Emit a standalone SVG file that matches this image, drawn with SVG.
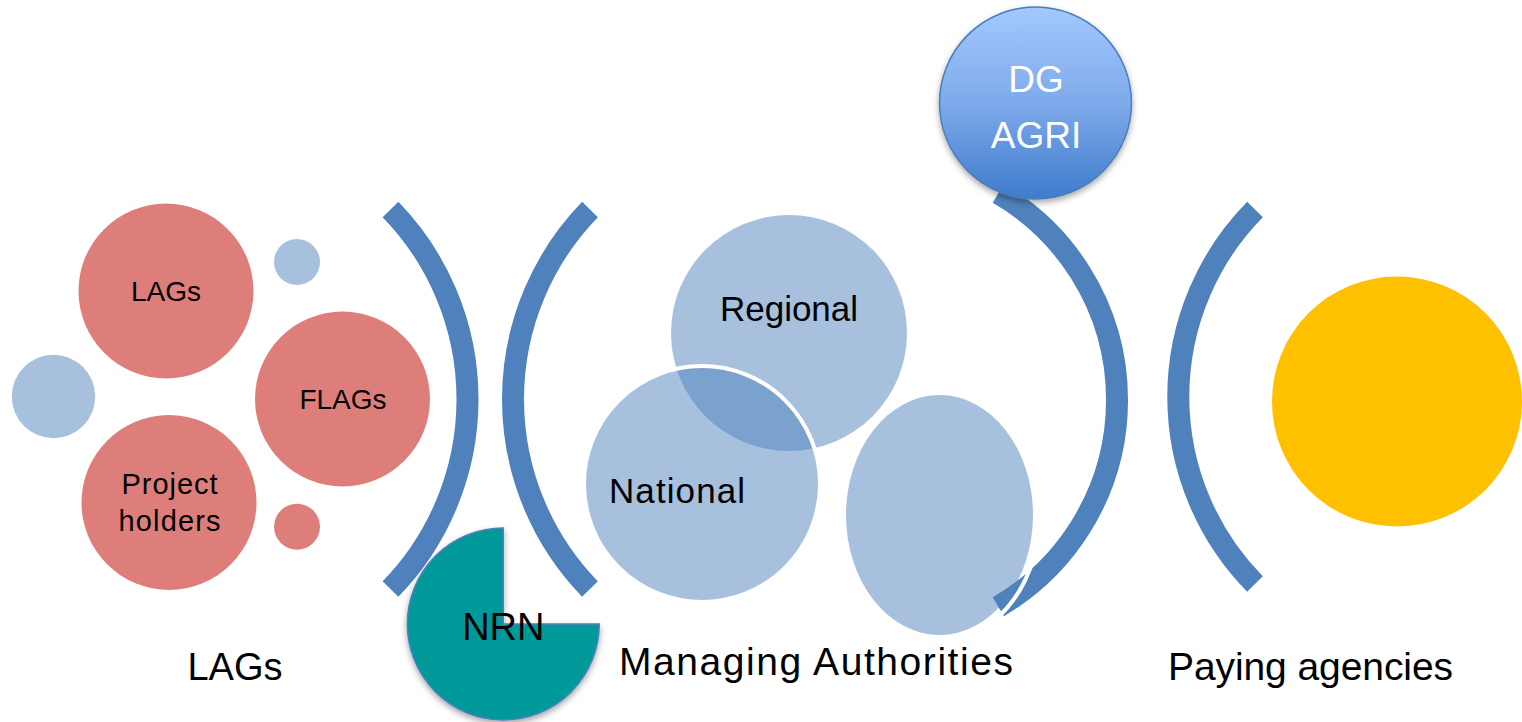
<svg xmlns="http://www.w3.org/2000/svg" width="1522" height="722" viewBox="0 0 1522 722">
<defs>
<style>
.t{font-family:"Liberation Sans",Arial,sans-serif;fill:#000;text-anchor:middle}
.w{fill:#fff}
.red{fill:#DE7E7B}
.lb{fill:#A7C0DE}
.br{fill:none;stroke:#4F81BD;stroke-width:22;stroke-linecap:butt}
</style>
<linearGradient id="dg" x1="0" y1="0" x2="0" y2="1">
<stop offset="0" stop-color="#A3C8FF"/>
<stop offset="0.5" stop-color="#7EAAEA"/>
<stop offset="1" stop-color="#3E7CCD"/>
</linearGradient>
<filter id="sh" x="-20%" y="-20%" width="140%" height="140%">
<feDropShadow dx="0" dy="3" stdDeviation="3" flood-color="#000" flood-opacity="0.35"/>
</filter>
</defs>
<rect width="1522" height="722" fill="#fff"/>

<g id="lags-group">
<circle class="red" cx="166" cy="291" r="87.5"/>
<text class="t" x="166" y="301" font-size="28">LAGs</text>
<circle class="lb" cx="297" cy="262" r="23"/>
<circle class="lb" cx="53.5" cy="396.5" r="41.7"/>
<circle class="red" cx="342.5" cy="399" r="87.5"/>
<text class="t" x="343" y="409" font-size="28">FLAGs</text>
<circle class="red" cx="169" cy="502.5" r="87.5"/>
<text class="t" x="169.5" y="494" font-size="29" textLength="96">Project</text>
<text class="t" x="169.5" y="531" font-size="29" textLength="102">holders</text>
<circle class="red" cx="297" cy="526.7" r="23"/>
<text class="t" x="235" y="680" font-size="38">LAGs</text>
</g>

<g id="managing-authorities">
<circle cx="789" cy="333" r="118" fill="#4F81BD" fill-opacity="0.5"/>
<text class="t" x="789" y="321" font-size="35">Regional</text>
<circle cx="702" cy="484" r="118" fill="#4F81BD" fill-opacity="0.5" stroke="#fff" stroke-width="4"/>
<text class="t" x="677" y="503" font-size="35" textLength="136">National</text>
<ellipse class="lb" cx="939.5" cy="515" rx="93.5" ry="120"/>
<text class="t" x="816" y="675" font-size="39" textLength="394">Managing Authorities</text>
</g>

<g id="connectors">
<path class="br" d="M390.5 209.5 A272.3 272.3 0 0 1 390.5 589"/>
<path class="br" d="M590 209.5 A272.3 272.3 0 0 0 590 589"/>
<path class="br" d="M998.3 193.3 A239.3 239.3 0 0 1 998.3 606.7"/>
<path class="br" d="M1255 209.5 A266.9 266.9 0 0 0 1255 584"/>
<path d="M1033.5 558.1 A100 126 0 0 1 965.4 636.7" fill="none" stroke="#fff" stroke-width="4"/>
</g>

<g id="nrn">
<path d="M503.3 624 L503.3 528 A96 96 0 1 0 599.3 624 Z" fill="#009999" stroke="#4F81BD" stroke-width="1.5" filter="url(#sh)"/>
<text class="t" x="503.3" y="640" font-size="38">NRN</text>
</g>

<g id="dg-agri">
<circle cx="1035.5" cy="103" r="96" fill="url(#dg)" stroke="#4A7EBB" stroke-width="1.5" filter="url(#sh)"/>
<text class="t w" x="1036" y="92" font-size="37">DG</text>
<text class="t w" x="1036" y="148" font-size="37">AGRI</text>
</g>

<g id="paying-agencies">
<circle cx="1397" cy="401.5" r="125" fill="#FFC000"/>
<text class="t" x="1310.5" y="680" font-size="39" textLength="285">Paying agencies</text>
</g>
</svg>
